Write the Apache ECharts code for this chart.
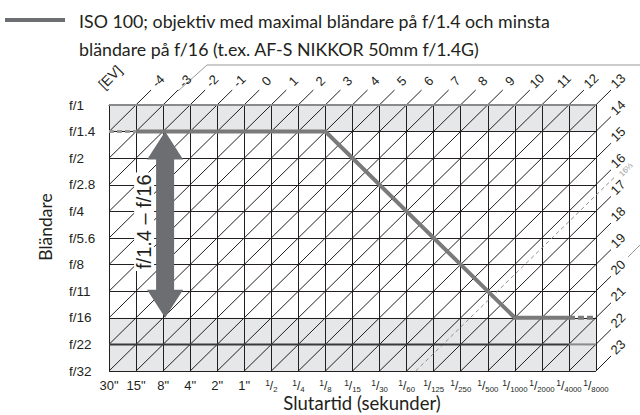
<!DOCTYPE html>
<html><head><meta charset="utf-8">
<script src="https://cdn.jsdelivr.net/npm/echarts@6/dist/echarts.min.js"></script>
<style>html,body{margin:0;padding:0;background:#fff}#c{width:640px;height:415px}</style>
</head><body><div id="c"></div>
<script>
// ---- data ----
const shutterLabels = ['30"','15"','8"','4"','2"','1"','1/2','1/4','1/8','1/15','1/30','1/60','1/125','1/250','1/500','1/1000','1/2000','1/4000','1/8000'];
const apertureLabels = ['f/1','f/1.4','f/2','f/2.8','f/4','f/5.6','f/8','f/11','f/16','f/22','f/32'];
const evValues = [-4,-3,-2,-1,0,1,2,3,4,5,6,7,8,9,10,11,12,13,14,15,16,17,18,19,20,21,22,23];
const evDashed = [16 + 1/3];
const evDashedLabels = ['16⅓'];
const programSolid = [['15"','f/1.4'],['1/8','f/1.4'],['1/1000','f/16'],['1/4000','f/16']];
const programDashLeft = [['30"','f/1.4'],['15"','f/1.4']];
const programDashRight = [['1/4000','f/16'],['1/8000','f/16']];
const shadedBands = [['f/1','f/1.4'],['f/16','f/32']];
const arrowRange = ['8"','f/1.4','f/16'];
const arrowText = 'f/1.4 – f/16';
const legendLines = ['ISO 100; objektiv med maximal bländare på f/1.4 och minsta','bländare på f/16 (t.ex. AF-S NIKKOR 50mm f/1.4G)'];
const xTitle = 'Slutartid (sekunder)';
const yTitle = 'Bländare';
const evTitle = '[EV]';

// ---- helpers ----
const xi = s => shutterLabels.indexOf(s);
const yi = a => apertureLabels.indexOf(a);
const X_MAX = shutterLabels.length - 1, Y_MAX = apertureLabels.length - 1;
const I0 = xi('1"'), R0 = yi('f/1');
function evEnds(e){
  const k = e + I0 + R0;
  const end = k <= X_MAX ? [k, 0] : [X_MAX, k - X_MAX];
  const start = k <= Y_MAX ? [0, k] : [k - Y_MAX, Y_MAX];
  return [start, end];
}
const INK = '#231f20';
const NUMFONT = '"Liberation Sans", Arial, sans-serif';
const TFONT = 'Lato, "Liberation Sans", sans-serif';

const chart = echarts.init(document.getElementById('c'), null, {renderer:'svg'});
const option = {
  animation:false,
  backgroundColor:'#fff',
  grid:{left:109, right:44, top:105, bottom:44},
  xAxis:{type:'value', min:0, max:X_MAX, interval:1, z:3,
    axisLine:{show:true, lineStyle:{color:INK, width:1}},
    axisTick:{show:false},
    splitLine:{show:true, lineStyle:{color:INK, width:1}},
    axisLabel:{margin:7, color:INK, fontFamily:NUMFONT, showMinLabel:true, showMaxLabel:true, hideOverlap:false,
      formatter: v => { const s = shutterLabels[v]; if (s === undefined) return '';
        if (s.indexOf('/') >= 0) { const p = s.split('/'); return '{n|'+p[0]+'}{sl|/}{d|'+p[1]+'}'; }
        return '{w|'+s+'}'; },
      rich:{
        w:{fontSize:13, lineHeight:15, fontFamily:NUMFONT, color:INK},
        n:{fontSize:8.5, lineHeight:10, verticalAlign:'top', fontFamily:NUMFONT, color:INK},
        sl:{fontSize:12, lineHeight:15, fontFamily:NUMFONT, color:INK},
        d:{fontSize:7.8, lineHeight:10, verticalAlign:'bottom', fontFamily:NUMFONT, color:INK}
      }}
  },
  yAxis:{type:'value', min:0, max:Y_MAX, interval:1, inverse:true, z:3,
    axisLine:{show:true, lineStyle:{color:INK, width:1}},
    axisTick:{show:false},
    splitLine:{show:true, lineStyle:{color:INK, width:1}},
    axisLabel:{margin:40, align:'left', color:INK, fontSize:13.5, fontFamily:NUMFONT, showMinLabel:true, showMaxLabel:true,
      formatter: v => apertureLabels[v] || ''}
  },
  graphic:[
    {type:'line', shape:{x1:5,y1:20,x2:65,y2:20}, style:{stroke:'#6d6e71', lineWidth:4}},
    {type:'text', x:79, y:21, style:{text:legendLines[0], font:'17.8px '+TFONT, fill:INK, verticalAlign:'middle'}},
    {type:'text', x:79, y:49, style:{text:legendLines[1], font:'17.8px '+TFONT, fill:INK, verticalAlign:'middle'}},
    {type:'text', x:45, y:227, rotation:Math.PI/2, style:{text:yTitle, font:'17.5px '+TFONT, fill:INK, align:'center', verticalAlign:'middle'}},
    {type:'text', x:362, y:403, style:{text:xTitle, font:'18.5px '+TFONT, fill:INK, align:'center', verticalAlign:'middle'}},
    {type:'polyline', shape:{points:[[178,91],[207,65],[640,65]]}, style:{stroke:'#999', lineWidth:1, fill:null}},
    {type:'line', shape:{x1:628,y1:257,x2:640,y2:245}, style:{stroke:'#999', lineWidth:1}}
  ],
  series:[
    { // shaded bands
      type:'custom', z:1, silent:true,
      data: shadedBands.map(b => [0, yi(b[0]), X_MAX, yi(b[1])]),
      encode:{x:[0,2], y:[1,3]},
      renderItem:(p, api) => {
        const a = api.coord([api.value(0), api.value(1)]), b = api.coord([api.value(2), api.value(3)]);
        return {type:'rect', shape:{x:a[0], y:a[1], width:b[0]-a[0], height:b[1]-a[1]}, style:{fill:'#e6e7e8'}};
      }
    },
    { // accent lines: grey top edge and heavier f/22 line
      type:'custom', z:5, silent:true,
      data:[[0, yi('f/1'), X_MAX, yi('f/22')]],
      encode:{x:[0,2], y:[1,3]},
      renderItem:(p, api) => {
        const t0 = api.coord([0, api.value(1)]), t1 = api.coord([api.value(2), api.value(1)]);
        const m0 = api.coord([0, api.value(3)]), m1 = api.coord([api.value(2)-1, api.value(3)]), m2 = api.coord([api.value(2), api.value(3)]);
        return {type:'group', children:[
          {type:'line', shape:{x1:t0[0], y1:t0[1], x2:t1[0], y2:t1[1]}, style:{stroke:'#8a8a8a', lineWidth:2}},
          {type:'line', shape:{x1:m0[0], y1:m0[1], x2:m1[0], y2:m1[1]}, style:{stroke:'#3a3a3a', lineWidth:2}},
          {type:'line', shape:{x1:m1[0], y1:m1[1], x2:m2[0], y2:m2[1]}, style:{stroke:'#8a8a8a', lineWidth:2}}
        ]};
      }
    },
    { // EV diagonals with labels
      type:'custom', z:4, silent:true, clip:false,
      data: evValues.map(e => [0, 0, e]),
      encode:{x:0, y:1},
      renderItem:(p, api) => {
        const e = api.value(2);
        const [s, t] = evEnds(e);
        const a = api.coord(s), b = api.coord(t);
        return {type:'group', children:[
          {type:'line', shape:{x1:a[0], y1:a[1], x2:b[0]+15, y2:b[1]-15}, style:{stroke:INK, lineWidth:1}},
          {type:'text', x:b[0]+22, y:b[1]-24, rotation:Math.PI/4,
            style:{text:String(e), font:'13px '+NUMFONT, fill:INK, align:'center', verticalAlign:'middle'}}
        ]};
      }
    },
    { // EV title
      type:'custom', z:4, silent:true, clip:false,
      data:[[0, yi('f/1')]],
      renderItem:(p, api) => {
        const a = api.coord([api.value(0), api.value(1)]);
        return {type:'text', x:a[0]+1, y:a[1]-28, rotation:Math.PI/4,
          style:{text:evTitle, font:'14px '+NUMFONT, fill:INK, align:'center', verticalAlign:'middle'}};
      }
    },
    { // dashed EV line
      type:'custom', z:4, silent:true, clip:false,
      data: evDashed.map((e, k) => [0, 0, e, k]),
      encode:{x:0, y:1},
      renderItem:(p, api) => {
        const e = api.value(2);
        const [s, t] = evEnds(e);
        const a = api.coord(s), b = api.coord(t);
        return {type:'group', children:[
          {type:'line', shape:{x1:a[0], y1:a[1], x2:b[0]+19, y2:b[1]-17}, style:{stroke:'#8f8f8f', lineWidth:1, lineDash:[4,3]}},
          {type:'text', x:b[0]+30, y:b[1]-24, rotation:Math.PI/4,
            style:{text:evDashedLabels[api.value(3)], font:'8px '+NUMFONT, fill:'#999', align:'center', verticalAlign:'middle'}}
        ]};
      }
    },
    { type:'line', z:6, silent:true, symbol:'none',
      data: programSolid.map(q => [xi(q[0]), yi(q[1])]),
      lineStyle:{color:'#7a7a7a', width:4, join:'miter'} },
    { type:'line', z:6, silent:true, symbol:'none',
      data: programDashLeft.map(q => [xi(q[0]), yi(q[1])]),
      lineStyle:{color:'#9a9a9a', width:3, type:[5,3]} },
    { type:'line', z:6, silent:true, symbol:'none',
      data: programDashRight.map(q => [xi(q[0]), yi(q[1])]),
      lineStyle:{color:'#7a7a7a', width:4, type:[6,3]} },
    { // double arrow + label
      type:'custom', z:7, silent:true,
      data:[[xi(arrowRange[0]), yi(arrowRange[1]), yi(arrowRange[2])]],
      encode:{x:0, y:[1,2]},
      renderItem:(p, api) => {
        const top = api.coord([api.value(0), api.value(1)]), bot = api.coord([api.value(0), api.value(2)]);
        const x = top[0] + 2, y1 = top[1], y2 = bot[1], hw = 18, sw = 9, hl = 28;
        const pts = [[x,y1],[x+hw,y1+hl],[x+sw,y1+hl],[x+sw,y2-hl],[x+hw,y2-hl],[x,y2],[x-hw,y2-hl],[x-sw,y2-hl],[x-sw,y1+hl],[x-hw,y1+hl]];
        return {type:'group', children:[
          {type:'polygon', shape:{points:pts}, style:{fill:'#6d6e71'}},
          {type:'text', x:x-21, y:(y1+y2)/2-3, rotation:Math.PI/2,
            style:{text:arrowText, font:'20px '+NUMFONT, fill:INK, align:'center', verticalAlign:'middle', backgroundColor:'#fff', padding:[0,2]}}
        ]};
      }
    }
  ]
};
chart.setOption(option);
</script></body></html>
